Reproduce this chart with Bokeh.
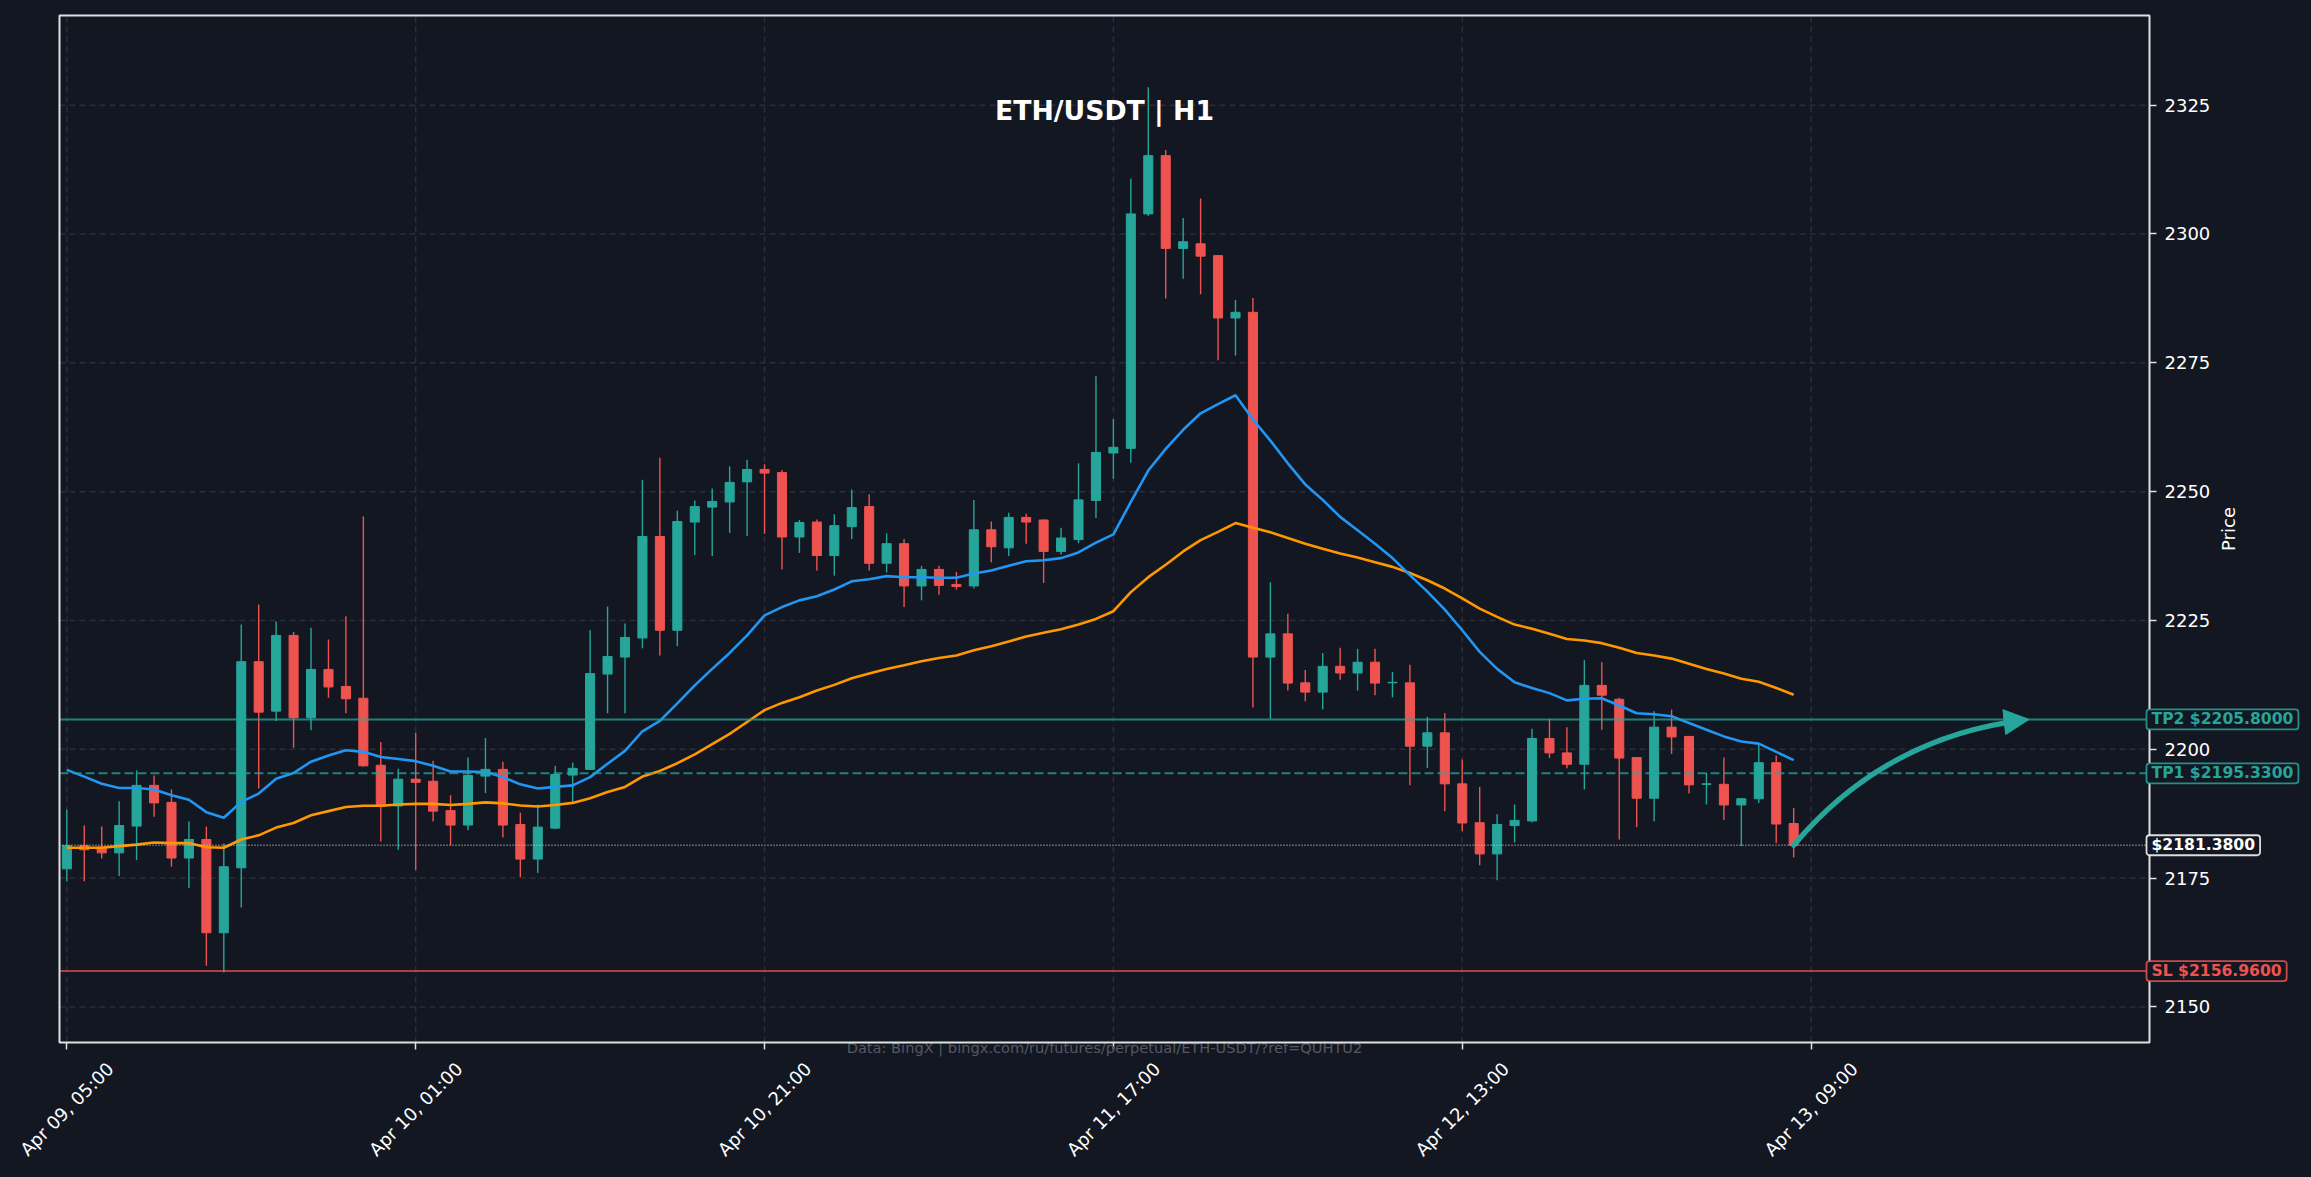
import math
from bokeh.plotting import figure
from bokeh.models import (FixedTicker, Label, Arrow, NormalHead, Range1d, ColumnDataSource,
                          LinearAxis, BoxAnnotation)
from bokeh.embed import file_html
from bokeh.resources import INLINE

# ---------------- data ----------------
opens = [2176.8, 2181.3, 2181.0, 2179.9, 2185.1, 2193.0, 2189.7, 2178.9, 2182.5, 2164.4,
         2177.0, 2217.0, 2207.4, 2222.1, 2206.1, 2215.5, 2212.2, 2209.9, 2196.9, 2189.0,
         2194.2, 2193.8, 2188.1, 2185.3, 2194.8, 2196.1, 2185.4, 2178.7, 2184.7, 2195.0,
         2196.1, 2214.6, 2217.9, 2221.6, 2241.3, 2223.1, 2244.1, 2247.0, 2248.0, 2251.9,
         2254.3, 2253.7, 2241.2, 2244.1, 2237.6, 2243.2, 2247.1, 2236.1, 2239.9, 2231.7,
         2234.9, 2232.0, 2231.7, 2242.6, 2239.1, 2245.0, 2244.5, 2238.4, 2240.7, 2248.3,
         2257.5, 2258.4, 2303.9, 2315.2, 2297.2, 2298.1, 2295.8, 2283.7, 2284.8, 2217.9,
         2222.4, 2212.9, 2211.1, 2216.1, 2214.8, 2216.9, 2212.9, 2212.9, 2200.6, 2203.2,
         2193.3, 2185.75, 2179.7, 2185.2, 2186.1, 2202.1, 2199.3, 2197.1, 2212.4, 2209.7,
         2198.4, 2190.5, 2204.3, 2202.5, 2193.2, 2193.2, 2189.2, 2190.4, 2197.4, 2185.6]
highs = [2188.3, 2185.2, 2185.0, 2189.9, 2195.9, 2194.9, 2192.2, 2186.0, 2185.0, 2181.7,
         2224.2, 2228.1, 2224.8, 2222.8, 2223.6, 2221.3, 2225.8, 2245.2, 2201.4, 2196.2,
         2203.2, 2197.8, 2191.1, 2198.4, 2202.2, 2197.6, 2187.7, 2189.3, 2196.8, 2197.4,
         2223.1, 2227.7, 2224.4, 2252.3, 2256.6, 2246.3, 2248.3, 2250.6, 2254.9, 2256.2,
         2255.3, 2254.2, 2244.5, 2244.6, 2245.6, 2250.4, 2249.5, 2241.9, 2240.8, 2235.6,
         2235.6, 2234.4, 2248.4, 2244.2, 2245.9, 2245.7, 2244.6, 2243.0, 2255.5, 2272.4,
         2264.1, 2310.7, 2328.5, 2316.3, 2303.1, 2306.9, 2295.9, 2287.2, 2287.6, 2232.4,
         2226.3, 2215.4, 2218.7, 2219.7, 2219.5, 2219.5, 2215.0, 2216.4, 2206.3, 2207.0,
         2198.0, 2192.7, 2187.4, 2189.3, 2204.0, 2205.9, 2204.3, 2217.3, 2216.9, 2210.0,
         2198.5, 2207.4, 2207.7, 2202.6, 2195.4, 2198.4, 2190.5, 2201.0, 2198.8, 2188.6]
lows = [2174.4, 2174.4, 2178.8, 2175.4, 2178.5, 2186.9, 2177.2, 2173.1, 2158.0, 2156.7,
        2169.3, 2192.4, 2205.5, 2200.3, 2203.7, 2210.0, 2207.0, 2196.6, 2182.1, 2180.5,
        2176.6, 2186.0, 2181.4, 2184.3, 2191.5, 2182.9, 2175.2, 2176.0, 2184.5, 2189.4,
        2196.0, 2207.0, 2207.0, 2219.6, 2218.2, 2220.0, 2237.7, 2237.5, 2242.0, 2241.4,
        2241.8, 2234.9, 2238.1, 2234.7, 2233.7, 2240.8, 2234.7, 2234.3, 2227.6, 2228.9,
        2230.0, 2231.0, 2231.2, 2236.3, 2237.5, 2239.9, 2232.3, 2237.8, 2240.0, 2244.9,
        2252.5, 2255.6, 2303.5, 2287.5, 2291.3, 2288.3, 2275.5, 2276.4, 2208.1, 2205.9,
        2211.4, 2209.3, 2207.7, 2213.5, 2211.4, 2210.5, 2210.1, 2193.0, 2196.4, 2188.0,
        2184.1, 2177.5, 2174.6, 2181.9, 2185.8, 2198.3, 2196.3, 2192.2, 2203.8, 2182.5,
        2184.9, 2186.0, 2199.1, 2191.4, 2189.3, 2186.3, 2181.2, 2189.6, 2181.8, 2179.0]
closes = [2181.3, 2180.5, 2179.9, 2185.2, 2193.0, 2189.6, 2178.9, 2182.5, 2164.4, 2177.2,
          2217.0, 2207.2, 2222.1, 2206.1, 2215.5, 2212.1, 2209.8, 2196.8, 2189.0, 2194.2,
          2193.6, 2188.0, 2185.3, 2194.9, 2196.1, 2185.3, 2178.7, 2184.9, 2195.1, 2196.3,
          2214.7, 2218.0, 2221.7, 2241.3, 2223.1, 2244.2, 2247.1, 2248.1, 2251.8, 2254.3,
          2253.6, 2241.2, 2244.0, 2237.6, 2243.4, 2246.9, 2236.1, 2239.9, 2231.7, 2234.9,
          2231.8, 2231.6, 2242.6, 2239.3, 2245.0, 2244.1, 2238.4, 2241.0, 2248.4, 2257.6,
          2258.6, 2303.9, 2315.2, 2297.2, 2298.5, 2295.7, 2283.7, 2284.8, 2217.9, 2222.4,
          2212.85, 2211.1, 2216.1, 2214.8, 2216.9, 2212.85, 2213.0, 2200.6, 2203.2, 2193.3,
          2185.7, 2179.7, 2185.4, 2186.2, 2202.1, 2199.3, 2197.1, 2212.4, 2210.5, 2198.3,
          2190.5, 2204.3, 2202.4, 2193.1, 2193.3, 2189.2, 2190.4, 2197.4, 2185.5, 2181.38]
ema20 = [2196.0, 2194.7, 2193.3, 2192.5, 2192.5, 2192.2, 2191.1, 2190.2, 2187.8, 2186.7,
         2189.8, 2191.4, 2194.3, 2195.4, 2197.6, 2198.8, 2199.8, 2199.5, 2198.5, 2198.1,
         2197.7, 2196.8, 2195.7, 2195.7, 2195.6, 2194.6, 2193.2, 2192.4, 2192.7, 2193.0,
         2194.6, 2197.2, 2199.7, 2203.5, 2205.5, 2208.9, 2212.4, 2215.6, 2218.7, 2222.1,
         2226.0, 2227.6, 2228.9, 2229.7, 2231.0, 2232.6, 2233.0, 2233.6, 2233.4, 2233.4,
         2233.3, 2233.3, 2234.1, 2234.7, 2235.6, 2236.5, 2236.7, 2237.1, 2238.2, 2240.1,
         2241.7, 2248.0, 2254.1, 2258.3, 2262.0, 2265.2, 2267.0, 2268.7, 2264.0, 2259.9,
         2255.5, 2251.4, 2248.4, 2245.1, 2242.5, 2239.9, 2237.1, 2233.8, 2230.6, 2227.1,
         2223.1, 2218.9, 2215.6, 2213.0, 2211.9, 2210.9, 2209.5, 2209.8, 2209.9, 2208.5,
         2207.0, 2206.8, 2206.4, 2205.1, 2203.8, 2202.5, 2201.5, 2201.1, 2199.5, 2197.9]
ema50 = [2180.9, 2180.9, 2180.9, 2181.2, 2181.5, 2181.9, 2181.8, 2181.8, 2181.0, 2180.9,
         2182.5, 2183.3, 2184.8, 2185.7, 2187.2, 2188.0, 2188.8, 2189.05, 2189.05, 2189.3,
         2189.4, 2189.4, 2189.2, 2189.4, 2189.7, 2189.5, 2189.1, 2188.9, 2189.2, 2189.6,
         2190.5, 2191.7, 2192.7, 2194.7, 2195.8, 2197.3, 2199.0, 2201.0, 2203.0, 2205.3,
         2207.6, 2209.0, 2210.1, 2211.4, 2212.5, 2213.8, 2214.7, 2215.6, 2216.3, 2217.1,
         2217.7, 2218.2, 2219.2, 2220.0, 2220.9, 2221.9, 2222.6, 2223.3, 2224.2, 2225.3,
         2226.8, 2230.5, 2233.4, 2235.8, 2238.4, 2240.6, 2242.2, 2243.9, 2243.0, 2242.1,
         2241.0, 2239.9, 2238.9, 2238.0, 2237.2, 2236.3, 2235.4, 2234.2, 2232.8, 2231.2,
         2229.3, 2227.3, 2225.7, 2224.2, 2223.4, 2222.4, 2221.4, 2221.1, 2220.6, 2219.7,
         2218.7, 2218.2, 2217.6, 2216.6, 2215.6, 2214.7, 2213.7, 2213.1, 2211.9, 2210.6]
x_tick_idx = [0, 20, 40, 60, 80, 100]
x_tick_labels = ["Apr 09, 05:00", "Apr 10, 01:00", "Apr 10, 21:00",
                 "Apr 11, 17:00", "Apr 12, 13:00", "Apr 13, 09:00"]
y_ticks = [2150, 2175, 2200, 2225, 2250, 2275, 2300, 2325]
tp2 = 2205.80
tp1 = 2195.33
current = 2181.38
sl = 2156.96
title_text = "ETH/USDT | H1"
axis_title = "Price"
source_text = "Data: BingX | bingx.com/ru/futures/perpetual/ETH-USDT/?ref=QUHTU2"

# ---------------- styling ----------------
BG = "#131722"
UP = "#26a69a"
DOWN = "#ef5350"
BLUE = "#2196f3"
ORANGE = "#ff9800"
FRAME = "#e0e0e0"
GRID = "#2a2e39"
FONT = "DejaVu Sans"

W, H = 2311, 1177
# plot area (axes box) in canvas pixels
PL, PR, PT, PB = 59, 2149, 15, 1042
# data limits of the axes box
X0, X1 = -0.42, 119.4
Y0, Y1 = 2143.1, 2342.4
kx = (PR - PL) / (X1 - X0)
ky = (PB - PT) / (Y1 - Y0)
XS, XE = X0 - PL / kx, X1 + (W - PR) / kx
YS, YE = Y0 - (H - PB) / ky, Y1 + PT / ky

p = figure(width=W, height=H, x_range=Range1d(XS, XE), y_range=Range1d(YS, YE),
           output_backend="svg", toolbar_location=None, y_axis_location="right",
           background_fill_color=BG, border_fill_color=BG, min_border=0,
           min_border_left=0, min_border_right=0, min_border_top=0, min_border_bottom=0)
p.outline_line_color = None
p.xgrid.visible = False
p.ygrid.visible = False

# price axis drawn at the right edge of the axes box
ya = p.yaxis[0]
ya.fixed_location = X1
ya.ticker = FixedTicker(ticks=y_ticks)
ya.axis_line_color = None
ya.major_tick_line_color = FRAME
ya.major_tick_line_width = 1.5
ya.major_tick_out = 7
ya.major_tick_in = 0
ya.minor_tick_line_color = None
ya.major_label_text_color = "white"
ya.major_label_text_font = FONT
ya.major_label_text_font_size = "18px"
ya.major_label_standoff = 8

# time axis: tick marks at the bottom edge of the axes box
xa = p.xaxis[0]
xa.fixed_location = Y0
xa.ticker = FixedTicker(ticks=x_tick_idx)
xa.axis_line_color = None
xa.major_tick_line_color = FRAME
xa.major_tick_line_width = 1.5
xa.major_tick_out = 7
xa.major_tick_in = 0
xa.minor_tick_line_color = None
xa.major_label_overrides = {i: "" for i in x_tick_idx}

# rotated tick labels, centred under the ticks (range shifted by half a label)
shift = 43.5 / kx
p.extra_x_ranges = {"lbl": Range1d(XS - shift, XE - shift)}
la = LinearAxis(x_range_name="lbl", fixed_location=Y0, ticker=FixedTicker(ticks=x_tick_idx),
                major_label_overrides=dict(zip(x_tick_idx, x_tick_labels)),
                major_label_orientation=math.pi / 4, axis_line_color=None,
                major_tick_line_color=None, minor_tick_line_color=None,
                major_tick_out=0, major_tick_in=0, major_label_standoff=23,
                major_label_text_color="white", major_label_text_font=FONT,
                major_label_text_font_size="18px")
p.add_layout(la, "below")

# dashed grid inside the axes box
p.segment(x0=X0, x1=X1, y0=y_ticks, y1=y_ticks, line_color=GRID, line_width=1.5,
          line_dash="6 4")
p.segment(x0=x_tick_idx, x1=x_tick_idx, y0=Y0, y1=Y1, line_color=GRID, line_width=1.5,
          line_dash="6 4")

# candles
n = len(closes)
xs = list(range(n))
cols = [UP if c >= o else DOWN for o, c in zip(opens, closes)]
src = ColumnDataSource(dict(
    x=xs, o=opens, h=highs, l=lows, c=closes, color=cols,
    top=[max(o, c) for o, c in zip(opens, closes)],
    bottom=[min(o, c) for o, c in zip(opens, closes)],
))
p.segment(x0="x", y0="h", x1="x", y1="l", source=src, line_color="color", line_width=1.4)
p.vbar(x="x", width=0.52, top="top", bottom="bottom", source=src,
       fill_color="color", line_color="color", line_width=1)

# EMAs
p.line(xs, ema50, line_color=ORANGE, line_width=2.6)
p.line(xs, ema20, line_color=BLUE, line_width=2.6)

# level lines across the axes box
p.segment(x0=X0, x1=X1, y0=tp2, y1=tp2, line_color=UP, line_alpha=0.75, line_width=2)
p.segment(x0=X0, x1=X1, y0=tp1, y1=tp1, line_color=UP, line_alpha=0.75, line_width=2,
          line_dash="9 4")
p.segment(x0=X0, x1=X1, y0=current, y1=current, line_color="#c0c3ca", line_alpha=0.85,
          line_width=1.6, line_dash="1 2")
p.segment(x0=X0, x1=X1, y0=sl, y1=sl, line_color=DOWN, line_alpha=0.7, line_width=2)

# projection arrow (curved, from last close toward TP2)
sx0, sy0 = (n - 1), closes[-1]
sx1, sy1 = (n - 1) + 13.5, tp2
ddx = (sx1 - sx0) * kx
ddy = (sy1 - sy0) * ky
rad = 0.2
mx, my = (sx0 + sx1) / 2, (sy0 + sy1) / 2
cx = mx + rad * (-ddy) / kx
cy = my + rad * (ddx) / ky
t = 0.92
bx = (1 - t) ** 2 * sx0 + 2 * (1 - t) * t * cx + t ** 2 * sx1
by = (1 - t) ** 2 * sy0 + 2 * (1 - t) * t * cy + t ** 2 * sy1
ccx = (1 - t) * sx0 + t * cx
ccy = (1 - t) * sy0 + t * cy
p.quadratic(x0=[sx0], y0=[sy0], x1=[bx], y1=[by], cx=[ccx], cy=[ccy],
            line_color=UP, line_width=5.3, line_cap="round")
tx, ty = sx1 - cx, sy1 - cy
p.add_layout(Arrow(end=NormalHead(size=25, fill_color=UP, line_color=UP, line_width=1),
                   x_start=sx1 - 0.12 * tx, y_start=sy1 - 0.12 * ty, x_end=sx1, y_end=sy1,
                   line_color=UP, line_width=5))

# source note (sits on the bottom spine)
p.add_layout(Label(x=(X0 + X1) / 2, y=Y0, y_offset=-5, text=source_text, text_align="center",
                   text_baseline="middle", text_color="#555862", text_font=FONT,
                   text_font_size="14.6px"))

# spines
p.add_layout(BoxAnnotation(left=X0, right=X1, bottom=Y0, top=Y1, fill_color=None,
                           fill_alpha=0, line_color=FRAME, line_alpha=1.0, line_width=2))

# title
p.add_layout(Label(x=(X0 + X1) / 2, y=Y1, y_offset=-95, text=title_text, text_align="center",
                   text_baseline="middle", text_color="white", text_font=FONT,
                   text_font_style="bold", text_font_size="26.7px"))

# axis title, reading upwards
p.add_layout(Label(x=X1, y=(Y0 + Y1) / 2, x_offset=79, text=axis_title, angle=math.pi / 2,
                   text_align="center", text_baseline="middle", text_color="white",
                   text_font=FONT, text_font_size="18px"))

# level tags on the price axis
tags = [(tp2, f"TP2 ${tp2:.4f}", UP), (tp1, f"TP1 ${tp1:.4f}", UP),
        (current, f"${current:.4f}", "white"), (sl, f"SL ${sl:.4f}", DOWN)]
for yv, txt, colr in tags:
    p.add_layout(Label(x=X1, y=yv, x_offset=-3, text=txt, text_align="left",
                       text_baseline="middle", text_color=colr, text_font=FONT,
                       text_font_style="bold", text_font_size="15.6px",
                       background_fill_color=BG, border_line_color=colr, border_line_alpha=0.85,
                       border_line_width=1.8, padding=dict(x=5, y=1), border_radius=3))

html = file_html(p, INLINE)
css = ("<style>html, body { margin: 0 !important; padding: 0 !important; "
       "background: #131722 !important; overflow: hidden; }</style>")
head_end = html.rfind("</head>")
if head_end != -1:
    html = html[:head_end] + css + html[head_end:]
open("out.html", "w").write(html)
